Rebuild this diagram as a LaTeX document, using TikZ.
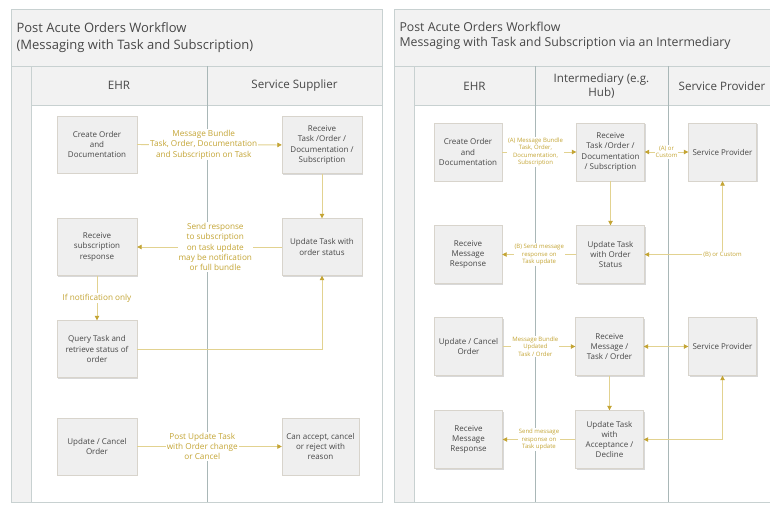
\documentclass[tikz,border=0pt]{standalone}
\usepackage{fontspec}
\setmainfont{Open Sans}
\usetikzlibrary{arrows.meta,shadows}
\definecolor{panelgray}{HTML}{F2F2F2}
\definecolor{rimline}{HTML}{C8D1D1}
\definecolor{laneline}{HTML}{A9B7B7}
\definecolor{boxfill}{HTML}{EFEFEF}
\definecolor{boxline}{HTML}{D8D4CC}
\definecolor{txtgray}{HTML}{474747}
\definecolor{gold}{HTML}{C4A535}
\definecolor{goldline}{HTML}{E2D290}

\begin{document}
\begin{tikzpicture}[x=1pt,y=-1pt,
    stepbox/.style={draw=boxline,fill=boxfill,text=txtgray,align=center,
      minimum width=80pt,minimum height=57pt,inner sep=2pt,
      font=\fontsize{8}{10.2}\selectfont,
      drop shadow={shadow xshift=1pt,shadow yshift=-1.2pt,fill=black!30,opacity=.5}},
    stepboxB/.style={stepbox,minimum width=68pt,minimum height=58pt},
    msg/.style={fill=white,text=gold,align=center,inner sep=1pt,
      font=\fontsize{8.2}{10.2}\selectfont},
    tinymsg/.style={msg,font=\fontsize{6}{7.6}\selectfont},
    flow/.style={draw=goldline,line width=0.8pt,
      -{Triangle[length=4.5pt,width=4.5pt,color=gold]}},
    flowtwo/.style={draw=goldline,line width=0.8pt,
      {Triangle[length=4.5pt,width=4.5pt,color=gold]}-{Triangle[length=4.5pt,width=4.5pt,color=gold]}},
    lanehead/.style={text=txtgray,align=center,font=\fontsize{11.6}{13.5}\selectfont}]
  \useasboundingbox (0,0) rectangle (770,506);
  \clip (0,0) rectangle (770,506);

  % left panel
  \draw[rimline,fill=panelgray] (11,9) rectangle (382,502);
  \fill[white] (31,105) rectangle (382,502);
  \draw[rimline] (11,66) -- (382,66);
  \draw[rimline] (31,105) -- (382,105);
  \draw[rimline] (31,66) -- (31,502);
  \draw[laneline] (207,66) -- (207,502);
  \node[anchor=west,text=txtgray,align=left,font=\fontsize{13}{17}\selectfont]
    (ttlA) at (13,37.5) {Post Acute Orders Workflow\\(Messaging with Task and Subscription)};
  \node[lanehead] (ehrA) at (119,85.5) {EHR};
  \node[lanehead] (supA) at (294.5,85.5) {Service Supplier};

  \node[stepbox] (crtA) at (97,144.5) {Create Order\\and\\Documentation};
  \node[stepbox] (rcvA) at (322,145) {Receive\\Task /Order /\\Documentation /\\Subscription};
  \node[stepbox] (subA) at (97,247) {Receive\\subscription\\response};
  \node[stepbox] (updA) at (322,247) {Update Task with\\order status};
  \node[stepbox] (qryA) at (97,349) {Query Task and\\retrieve status of\\order};
  \node[stepbox] (ucnA) at (97,446.5) {Update / Cancel\\Order};
  \node[stepbox,minimum width=77pt] (accA) at (320.5,446.5) {Can accept, cancel\\or reject with\\reason};

  \draw[flow] (crtA) -- node[msg,pos=0.46] {Message Bundle\\Task, Order, Documentation\\and Subscription on Task} (rcvA);
  \draw[flow] (rcvA) -- (updA);
  \draw[flow] (updA) -- node[msg,pos=0.46] {Send response\\to subscription\\on task update\\may be notification\\or full bundle} (subA);
  \draw[flow] (subA) -- node[msg] {If notification only} (qryA);
  \draw[flow] (qryA.east) -| (updA.south);
  \draw[flow] (ucnA) -- node[msg,pos=0.45] {Post Update Task\\with Order change\\or Cancel} (accA);

  % right panel
  \draw[rimline,fill=panelgray] (394,9) rectangle (776,502);
  \fill[white] (414,105) rectangle (776,502);
  \draw[rimline] (394,66) -- (776,66);
  \draw[rimline] (414,105) -- (776,105);
  \draw[rimline] (414,66) -- (414,502);
  \draw[laneline] (535,66) -- (535,502);
  \draw[laneline] (668,66) -- (668,502);
  \node[anchor=west,text=txtgray,align=left,font=\fontsize{12.3}{14.5}\selectfont]
    (ttlB) at (396,36) {Post Acute Orders Workflow\\Messaging with Task and Subscription via an Intermediary};
  \node[lanehead] (ehrB) at (474.5,86) {EHR};
  \node[lanehead] (hubB) at (601.5,86) {Intermediary (e.g.\\Hub)};
  \node[lanehead] (prvB) at (722,86) {Service Provider};

  \node[stepboxB] (crtB) at (468,152) {Create Order\\and\\Documentation};
  \node[stepboxB] (rcvB) at (610.5,152) {Receive\\Task /Order /\\Documentation\\/ Subscription};
  \node[stepboxB] (spB) at (722.5,152) {Service Provider};
  \node[stepboxB] (resB) at (468,254.5) {Receive\\Message\\Response};
  \node[stepboxB] (updB) at (610.5,254.5) {Update Task\\with Order\\Status};
  \node[stepboxB] (ucnB) at (468.5,346.5) {Update / Cancel\\Order};
  \node[stepboxB] (rmtB) at (609.5,346.5) {Receive\\Message /\\Task / Order};
  \node[stepboxB] (spC) at (722.5,346.5) {Service Provider};
  \node[stepboxB] (resC) at (468.5,439.5) {Receive\\Message\\Response};
  \node[stepboxB] (accB) at (609.5,439.5) {Update Task\\with\\Acceptance /\\Decline};

  \draw[flow] (crtB) -- node[tinymsg,pos=0.45] {(A) Message Bundle\\Task, Order,\\Documentation,\\Subscription} (rcvB);
  \draw[flowtwo] (rcvB) -- node[tinymsg] {(A) or\\Custom} (spB);
  \draw[flow] (rcvB) -- (updB);
  \draw[flow] (updB) -- node[tinymsg] {(B) Send message\\response on\\Task update} (resB);
  \draw[flowtwo] (updB.east) -| node[tinymsg] {(B) or Custom} (spB.south);
  \draw[flow] (ucnB) -- node[tinymsg,pos=0.45] {Message Bundle\\Updated\\Task / Order} (rmtB);
  \draw[flowtwo] (rmtB) -- (spC);
  \draw[flow] (rmtB) -- (accB);
  \draw[flow] (accB) -- node[tinymsg] {Send message\\response on\\Task update} (resC);
  \draw[flowtwo] (accB.east) -| (spC.south);
\end{tikzpicture}
\end{document}
